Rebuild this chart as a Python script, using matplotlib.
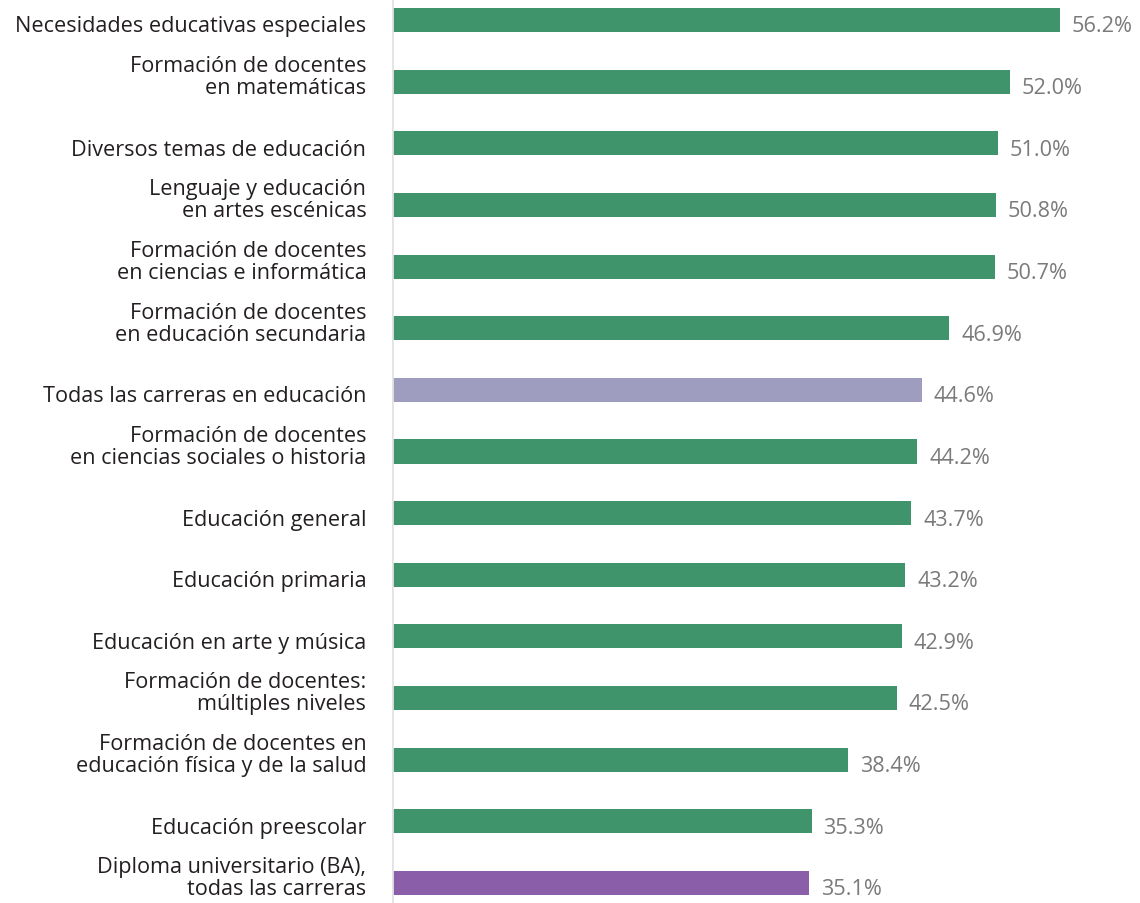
import matplotlib.pyplot as plt

plt.rcParams['font.family'] = ['Open Sans', 'DejaVu Sans']

labels = [
    "Necesidades educativas especiales",
    "Formación de docentes\nen matemáticas",
    "Diversos temas de educación",
    "Lenguaje y educación\nen artes escénicas",
    "Formación de docentes\nen ciencias e informática",
    "Formación de docentes\nen educación secundaria",
    "Todas las carreras en educación",
    "Formación de docentes\nen ciencias sociales o historia",
    "Educación general",
    "Educación primaria",
    "Educación en arte y música",
    "Formación de docentes:\nmúltiples niveles",
    "Formación de docentes en\neducación física y de la salud",
    "Educación preescolar",
    "Diploma universitario (BA),\ntodas las carreras",
]
values = [56.2, 52.0, 51.0, 50.8, 50.7, 46.9, 44.6, 44.2, 43.7, 43.2, 42.9, 42.5, 38.4, 35.3, 35.1]
kinds = ["edu"] * 6 + ["all_edu"] + ["edu"] * 7 + ["ba"]

colors = {"edu": "#3f946b", "all_edu": "#9e9dbf", "ba": "#8a5ea8"}

fig = plt.figure(figsize=(11.4, 9.04), dpi=100)
ax = fig.add_axes([392 / 1140, 0, 748 / 1140, 1])

y = list(range(len(values)))
ax.barh(y, values, height=0.39, color=[colors[k] for k in kinds], zorder=2)

ax.set_xlim(0, 748 / 11.886)
ax.set_ylim(14 + 20 / 61.64, -21 / 61.64)

for i, (lab, v) in enumerate(zip(labels, values)):
    ax.annotate(lab, (0, i), xytext=(-18.5, -8.2), textcoords='offset points',
                ha='right', va='baseline', fontsize=15.6, color='#231f20',
                linespacing=1.06, annotation_clip=False)
    ax.annotate(f"{v:.1f}%", (v, i), xytext=(8.5, -8.2), textcoords='offset points',
                ha='left', va='baseline', fontsize=15.6, color='#7a7a7a')

ax.axvline(0, color='#e3e3e3', lw=2, zorder=3)
ax.set_xticks([])
ax.set_yticks([])
for spine in ax.spines.values():
    spine.set_visible(False)

fig.savefig('out.png', dpi=100)
